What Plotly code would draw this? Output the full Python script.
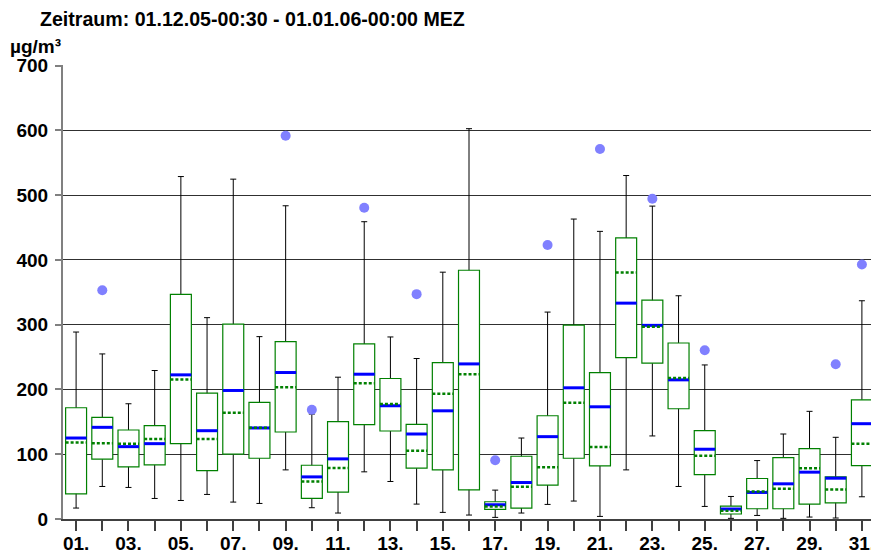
import plotly.graph_objects as go

# ---- data ----
days = list(range(1, 32))
tick_text = [f"{d:02d}." if d % 2 == 1 else "" for d in days]

whisker_low = [16.9, 50.2, 48.7, 31.7, 28.6, 37.9, 26.1, 24.0, 75.8, 17.4,
               9.2, 72.8, 57.9, 23.0, 10.2, 6.1, 2.5, 9.2, 22.5, 27.7,
               4.0, 75.8, 128.2, 50.2, 19.4, 1.0, 5.5, 1.0, 3.0, 1.5, 34.3]
q1 = [38.9, 92.3, 80.5, 83.5, 116.3, 74.8, 100.0, 93.8, 134.3, 31.7,
      41.5, 145.6, 135.8, 78.4, 75.8, 45.1, 14.8, 16.9, 52.3, 93.8,
      82.0, 249.2, 240.5, 170.2, 68.6, 7.7, 15.8, 15.8, 23.0, 25.0, 82.5]
q3 = [171.7, 156.9, 137.4, 144.0, 346.6, 194.3, 300.9, 180.0, 273.8, 83.0,
      150.2, 270.2, 216.9, 146.2, 241.5, 384.0, 26.6, 96.9, 159.4, 299.4,
      226.1, 433.8, 337.8, 271.7, 136.3, 20.0, 62.5, 94.8, 108.6, 65.0, 184.0]
whisker_high = [288.6, 254.8, 177.9, 229.2, 528.6, 310.8, 524.6, 281.5, 483.5, 162.0,
                218.9, 458.9, 281.0, 247.7, 381.0, 602.5, 44.6, 125.0, 319.4, 463.0,
                444.0, 530.2, 483.0, 344.6, 237.8, 34.8, 90.2, 131.2, 166.2, 126.1, 336.9]
mean_vals = [125.0, 141.5, 111.7, 116.3, 222.5, 136.3, 198.4, 140.5, 226.1, 65.0,
             92.8, 223.5, 174.8, 131.2, 167.0, 239.4, 22.0, 56.3, 127.1, 202.5,
             173.2, 333.2, 298.9, 214.8, 107.7, 15.4, 41.0, 54.3, 72.3, 63.0, 147.1]
median_vals = [117.9, 116.9, 116.3, 123.5, 215.4, 123.5, 164.0, 141.0, 203.5, 57.9,
               78.9, 209.7, 177.4, 105.5, 193.2, 223.5, 19.4, 49.7, 80.0, 179.4,
               111.2, 380.5, 296.9, 217.8, 97.8, 12.8, 42.5, 46.6, 78.4, 45.6, 116.3]
outliers = [None, 353.0, None, None, None, None, None, None, 591.7, 168.6,
            None, 480.5, None, 347.1, None, None, 90.7, None, 423.0, None,
            571.2, None, 494.3, None, 260.5, None, None, None, None, 238.9, 392.8]

title_text = "Zeitraum: 01.12.05-00:30 - 01.01.06-00:00 MEZ"
unit_text = "µg/m³"

# ---- styling ----
BOX_W = 0.8
GREEN = "#008000"
BLUE = "#0000ff"
FONT = dict(family="Liberation Sans, Arial, sans-serif", size=19, color="black", weight="bold")
TITLE_FONT = dict(FONT, size=19.6)

# the page body adds an 8px offset; the figure is sized to fit the 879x556 window
FIG_W, FIG_H = 871, 548
M_L, M_R, M_T, M_B = 55, 4, 57, 37
PLOT_W = FIG_W - M_L - M_R
PLOT_H = FIG_H - M_T - M_B


def px_x(p):
    return (p - M_L) / PLOT_W


def px_y(p):
    return (FIG_H - M_B - p) / PLOT_H


def segments(values):
    xs, ys = [], []
    for d, v in zip(days, values):
        xs += [d - BOX_W / 2, d + BOX_W / 2, None]
        ys += [v, v, None]
    return xs, ys


fig = go.Figure()

# whiskers (invisible bar carrying the error bars)
fig.add_trace(go.Bar(
    x=days, y=q1, width=BOX_W,
    marker=dict(color="rgba(0,0,0,0)", line=dict(width=0)),
    error_y=dict(type="data", symmetric=False,
                 array=[h - a for h, a in zip(whisker_high, q1)],
                 arrayminus=[a - l for a, l in zip(q1, whisker_low)],
                 color="black", thickness=1, width=3),
    hoverinfo="skip",
))

# boxes
fig.add_trace(go.Bar(
    x=days, base=q1, y=[b - a for a, b in zip(q1, q3)], width=BOX_W,
    marker=dict(color="white", line=dict(color=GREEN, width=1.2)),
    hoverinfo="skip",
))

mx, my = segments(mean_vals)
fig.add_trace(go.Scatter(x=mx, y=my, mode="lines",
                         line=dict(color=BLUE, width=3), hoverinfo="skip"))
dx, dy = segments(median_vals)
fig.add_trace(go.Scatter(x=dx, y=dy, mode="lines",
                         line=dict(color=GREEN, width=2.5, dash="3px,2px"), hoverinfo="skip"))

fig.add_trace(go.Scatter(x=days, y=outliers, mode="markers",
                         marker=dict(color="#8080ff", size=10), hoverinfo="skip"))

fig.update_layout(
    width=FIG_W, height=FIG_H,
    margin=dict(l=M_L, r=M_R, t=M_T, b=M_B, autoexpand=False),
    paper_bgcolor="white", plot_bgcolor="white",
    barmode="overlay", showlegend=False,
    font=FONT,
    annotations=[
        dict(text=title_text, xref="paper", yref="paper",
             x=px_x(30), y=px_y(11), xanchor="left", yanchor="middle",
             showarrow=False, font=TITLE_FONT),
        dict(text=unit_text, xref="paper", yref="paper",
             x=px_x(0), y=px_y(39), xanchor="left", yanchor="middle",
             showarrow=False, font=FONT),
    ],
)

fig.update_xaxes(
    range=[0.5, 31.5], tickmode="array", tickvals=days, ticktext=tick_text,
    ticks="outside", ticklen=10, tickwidth=1.5, tickcolor="#404040",
    showline=True, linecolor="#404040", linewidth=2,
    showgrid=False, zeroline=False, tickfont=FONT, automargin=False,
    ticklabelstandoff=-4, ticklabeloverflow="allow",
)
fig.update_yaxes(
    range=[0, 700.8], dtick=100, tick0=0,
    ticks="outside", ticklen=6, tickwidth=1.5, tickcolor="#808080",
    showline=True, linecolor="#808080", linewidth=2,
    showgrid=True, gridcolor="#303030", gridwidth=1, zeroline=False,
    tickfont=FONT, automargin=False, ticklabelstandoff=3,
)

fig.write_html("out.html")
